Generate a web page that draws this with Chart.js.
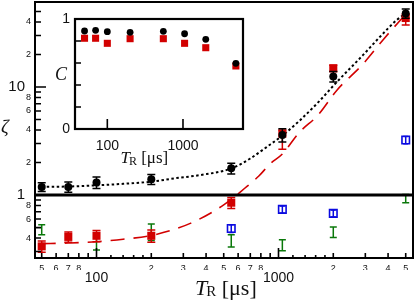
<!DOCTYPE html>
<html>
<head>
<meta charset="utf-8">
<script src="https://cdn.jsdelivr.net/npm/chart.js@4.4.1/dist/chart.umd.min.js"></script>
<style>
  html, body { margin: 0; padding: 0; background: #fff; }
  #wrap { position: relative; width: 415px; height: 301px; }
  #wrap canvas { position: absolute; left: 0; top: 0; }
</style>
</head>
<body>
<div id="wrap">
  <canvas id="main" width="415" height="301"></canvas>
  <canvas id="inset" width="415" height="301"></canvas>
</div>
<script>
// repetition time T_R in microseconds
const tR = [50, 70, 100, 200, 550, 1050, 2000, 5000];

// main panel: zeta
const zetaBlack = [1.19, 1.19, 1.31, 1.40, 1.77, 3.60, 12.5, 48.0];
const zetaBlackErr = [0.11, 0.13, 0.16, 0.15, 0.2, 0.5, 1.4, 4.8];
const zetaRed = [0.335, 0.41, 0.42, 0.42, 0.85, 3.7, 14.9, 43.5];
const zetaRedErrLo = [0.04, 0.045, 0.05, 0.055, 0.1, 1.05, 1.0, 6];
const zetaRedErrHi = [0.04, 0.045, 0.05, 0.055, 0.1, 0.3, 1.0, 4];
const tGreen = [50, 100, 200, 550, 1050, 2000, 5000];
const zetaGreen = [0.48, 0.37, 0.46, 0.38, 0.345, 0.455, 0.93];
const zetaGreenErr = [0.05, 0.06, 0.08, 0.05, 0.04, 0.05, 0.08];
const tBlue = [550, 1050, 2000, 5000];
const zetaBlue = [0.49, 0.737, 0.677, 3.23];
const zetaBlueErr = [0.04, 0.057, 0.052, 0.25];

// fitted curves
const fitBlackT = [50, 70, 100, 140, 200, 270, 370, 550, 700, 860, 1050, 1300, 1650, 2100, 2900, 3600, 4450, 5000];
const fitBlackZ = [1.19, 1.20, 1.23, 1.27, 1.33, 1.43, 1.53, 1.76, 2.18, 2.78, 3.55, 4.85, 7.2, 11.2, 19.6, 29, 41.5, 48];
const fitRedT = [50, 70, 100, 140, 210, 330, 500, 650, 780, 900, 1050, 1300, 1650, 2100, 2900, 3800, 4900];
const fitRedZ = [0.355, 0.36, 0.37, 0.39, 0.43, 0.55, 0.81, 1.15, 1.5, 1.95, 2.4, 3.8, 5.5, 9.4, 16.2, 28, 45.5];
const refLine = 1;

// inset: C
const cBlack = [0.891, 0.897, 0.885, 0.879, 0.888, 0.866, 0.815, 0.597];
const cRed = [0.825, 0.825, 0.779, 0.821, 0.821, 0.779, 0.739, 0.573];

// ticks
const xTicksMajor = [100, 1000];
const xTicksDigit = [50, 60, 70, 80, 200, 300, 400, 500, 600, 700, 800, 2000, 3000, 4000, 5000];
const xTicksPlain = [90, 900];
const xTicksSmall = [120, 140, 160, 180, 1200, 1400, 1600, 1800];
const yTicksMajor = [1, 10];
const yTicksDigit = [0.4, 0.6, 0.8, 2, 4, 6, 8, 20, 40];
const yTicksPlain = [0.3, 0.5, 0.7, 0.9, 3, 5, 7, 9, 30, 50];
const insetXTicks = [100, 1000];
const insetYLabels = [0, 1];
const insetYTicks = [0.2, 0.4, 0.6, 0.8];

const RED = '#d20000', BLUE = '#0a0ae0', GREEN = '#0a780a', INK = '#111';
const SANS = '"Liberation Sans", Arial, sans-serif';
const SERIF = '"Liberation Serif", "Times New Roman", serif';

const pts = (xs, ys) => xs.map((x, i) => ({ x, y: ys[i] }));
const digit = v => String(Math.round(v / Math.pow(10, Math.floor(Math.log10(v) + 1e-9))));
const setTicks = vals => s => { s.ticks = vals.map(v => ({ value: v })); };
const fixSize = (w, h) => s => {
  if (w != null) s.width = w;
  if (h != null) s.height = h;
  s.paddingLeft = s.paddingRight = s.paddingTop = s.paddingBottom = 0;
};

function drawTR(ctx, x0, base, size, subSize, subDrop) {
  ctx.save();
  ctx.fillStyle = INK;
  ctx.textBaseline = 'alphabetic';
  ctx.textAlign = 'left';
  ctx.font = `italic ${size}px ${SERIF}`;
  ctx.fillText('T', x0, base);
  let x = x0 + ctx.measureText('T').width - 1;
  ctx.font = `${subSize}px ${SERIF}`;
  ctx.fillText('R', x, base + subDrop);
  x += ctx.measureText('R').width;
  ctx.font = `${size}px ${SERIF}`;
  ctx.fillText(' [μs]', x, base);
  ctx.restore();
}

const errorBars = {
  id: 'errorBars',
  beforeDatasetDraw(chart, args) {
    const ds = chart.data.datasets[args.index];
    if (!ds.errLo) return;
    const ys = chart.scales[args.meta.yAxisID];
    const ctx = chart.ctx;
    ctx.save();
    ctx.strokeStyle = ds.errColor;
    ctx.lineWidth = 1.5;
    args.meta.data.forEach((pt, i) => {
      const v = ds.data[i].y;
      const top = ys.getPixelForValue(v + ds.errHi[i]);
      const bot = ys.getPixelForValue(v - ds.errLo[i]);
      ctx.beginPath();
      ctx.moveTo(pt.x, top); ctx.lineTo(pt.x, bot);
      ctx.moveTo(pt.x - ds.capW, top); ctx.lineTo(pt.x + ds.capW, top);
      ctx.moveTo(pt.x - ds.capW, bot); ctx.lineTo(pt.x + ds.capW, bot);
      ctx.stroke();
    });
    ctx.restore();
  }
};

const mainFrame = {
  id: 'mainFrame',
  afterDatasetsDraw(chart) {
    const { ctx, chartArea: a } = chart;
    const py = chart.scales.y.getPixelForValue(refLine);
    ctx.save();
    ctx.strokeStyle = '#000';
    ctx.lineWidth = 3;
    ctx.beginPath(); ctx.moveTo(a.left, py); ctx.lineTo(a.right, py); ctx.stroke();
    ctx.restore();
  },
  afterDraw(chart) {
    const { ctx, chartArea: a } = chart;
    const xs = chart.scales.x, ys = chart.scales.y;
    ctx.save();
    ctx.strokeStyle = '#000';
    ctx.lineWidth = 1.6;
    ctx.beginPath();
    const xt = (vals, len) => vals.forEach(v => {
      const px = xs.getPixelForValue(v);
      ctx.moveTo(px, a.bottom); ctx.lineTo(px, a.bottom - len);
    });
    const yt = (vals, len) => vals.forEach(v => {
      const py = ys.getPixelForValue(v);
      ctx.moveTo(a.left, py); ctx.lineTo(a.left + len, py);
    });
    xt(xTicksMajor, 10); xt(xTicksDigit, 5); xt(xTicksPlain, 5); xt(xTicksSmall, 3);
    yt(yTicksMajor, 11); yt(yTicksDigit, 6); yt(yTicksPlain, 6);
    ctx.stroke();
    ctx.lineWidth = 2;
    ctx.strokeRect(a.left, a.top, a.right - a.left, a.bottom - a.top);
    ctx.fillStyle = INK;
    ctx.font = `italic 19px ${SERIF}`;
    ctx.textBaseline = 'alphabetic';
    ctx.fillText('ζ', 1, 133);
    ctx.restore();
    drawTR(ctx, (a.left + a.right) / 2 - 29, 295, 22, 15, 1);
  }
};

const xMin = 45.93, xMax = 5483, yMin = 0.2615, yMax = 61.2;
const tickFont = size => ({ family: SANS, size });

new Chart(document.getElementById('main'), {
  type: 'line',
  data: {
    datasets: [
      { data: pts(tR, zetaBlack), showLine: false, pointStyle: 'circle', pointRadius: 4,
        backgroundColor: '#000', borderColor: '#000', borderWidth: 0,
        errLo: zetaBlackErr, errHi: zetaBlackErr, capW: 4, errColor: '#000' },
      { data: pts(tR, zetaRed), showLine: false, pointStyle: 'rect', pointRadius: 5.7,
        backgroundColor: RED, borderColor: RED, borderWidth: 0,
        errLo: zetaRedErrLo, errHi: zetaRedErrHi, capW: 4, errColor: RED },
      { data: pts(tGreen, zetaGreen), showLine: false, pointRadius: 0,
        errLo: zetaGreenErr, errHi: zetaGreenErr, capW: 3.5, errColor: GREEN },
      { data: pts(tBlue, zetaBlue), showLine: false, pointStyle: 'rect', pointRadius: 5.3,
        backgroundColor: 'rgba(0,0,0,0)', borderColor: BLUE, borderWidth: 1.6,
        errLo: zetaBlueErr, errHi: zetaBlueErr, capW: 2.5, errColor: BLUE },
      { data: pts(fitBlackT, fitBlackZ), pointRadius: 0, borderColor: '#000', borderWidth: 2,
        borderDash: [2.5, 2.5], cubicInterpolationMode: 'monotone', fill: false },
      { data: pts(fitRedT, fitRedZ), pointRadius: 0, borderColor: RED, borderWidth: 1.6,
        borderDash: [14, 9], cubicInterpolationMode: 'monotone', fill: false }
    ]
  },
  options: {
    responsive: false,
    animation: false,
    events: [],
    layout: { padding: { left: 0, top: 2, right: 2, bottom: 0 }, autoPadding: false },
    plugins: { legend: { display: false }, tooltip: { enabled: false } },
    scales: {
      x: {
        type: 'logarithmic', position: 'bottom', weight: 0, min: xMin, max: xMax,
        afterBuildTicks: setTicks(xTicksDigit), afterFit: fixSize(null, 12),
        grid: { display: false, drawTicks: false }, border: { display: false },
        ticks: { autoSkip: false, maxRotation: 0, padding: 5, color: INK, font: tickFont(9), callback: v => digit(v) }
      },
      x2: {
        type: 'logarithmic', position: 'bottom', weight: 1, min: xMin, max: xMax,
        afterBuildTicks: setTicks(xTicksMajor), afterFit: fixSize(null, 31),
        grid: { display: false, drawTicks: false }, border: { display: false },
        ticks: { autoSkip: false, maxRotation: 0, padding: 0, color: INK, font: tickFont(14), callback: v => String(v) }
      },
      y: {
        type: 'logarithmic', position: 'left', weight: 0, min: yMin, max: yMax,
        afterBuildTicks: setTicks(yTicksDigit), afterFit: fixSize(10, null),
        grid: { display: false, drawTicks: false }, border: { display: false },
        ticks: { autoSkip: false, padding: 4, color: INK, font: tickFont(9), callback: v => digit(v) }
      },
      y2: {
        type: 'logarithmic', position: 'left', weight: 1, min: yMin, max: yMax,
        afterBuildTicks: setTicks(yTicksMajor), afterFit: fixSize(25, null),
        grid: { display: false, drawTicks: false }, border: { display: false },
        ticks: { autoSkip: false, padding: 0, color: INK, font: tickFont(15), callback: v => String(v) }
      }
    }
  },
  plugins: [errorBars, mainFrame]
});

const insetFrame = {
  id: 'insetFrame',
  beforeDraw(chart) {
    const { ctx, chartArea: a } = chart;
    ctx.save();
    ctx.fillStyle = '#fff';
    ctx.fillRect(a.left, a.top, a.right - a.left, a.bottom - a.top);
    ctx.restore();
  },
  afterDraw(chart) {
    const { ctx, chartArea: a } = chart;
    const xs = chart.scales.x, ys = chart.scales.y;
    ctx.save();
    ctx.strokeStyle = '#000';
    ctx.lineWidth = 1.6;
    ctx.beginPath();
    insetXTicks.forEach(v => {
      const px = xs.getPixelForValue(v);
      ctx.moveTo(px, a.bottom); ctx.lineTo(px, a.bottom - 10);
    });
    insetYTicks.forEach(v => {
      const py = ys.getPixelForValue(v);
      ctx.moveTo(a.left, py); ctx.lineTo(a.left + 6, py);
    });
    ctx.stroke();
    ctx.lineWidth = 2.2;
    ctx.strokeRect(a.left, a.top, a.right - a.left, a.bottom - a.top);
    ctx.fillStyle = INK;
    ctx.font = `italic 18px ${SERIF}`;
    ctx.textBaseline = 'alphabetic';
    ctx.fillText('C', 55, 80);
    ctx.restore();
    drawTR(ctx, 120.5, 163, 17, 12, 2);
  }
};

new Chart(document.getElementById('inset'), {
  type: 'line',
  data: {
    datasets: [
      { data: pts(tR, cBlack), showLine: false, pointStyle: 'circle', pointRadius: 3.4,
        backgroundColor: '#000', borderColor: '#000', borderWidth: 0 },
      { data: pts(tR, cRed), showLine: false, pointStyle: 'rect', pointRadius: 5,
        backgroundColor: RED, borderColor: RED, borderWidth: 0 }
    ]
  },
  options: {
    responsive: false,
    animation: false,
    events: [],
    layout: { padding: { left: 45, top: 19, right: 172, bottom: 142 }, autoPadding: false },
    plugins: { legend: { display: false }, tooltip: { enabled: false } },
    scales: {
      x: {
        type: 'logarithmic', min: 37.4, max: 6210,
        afterBuildTicks: setTicks(insetXTicks), afterFit: fixSize(null, 30),
        grid: { display: false, drawTicks: false }, border: { display: false },
        ticks: { autoSkip: false, maxRotation: 0, padding: 9, color: INK, font: tickFont(14), callback: v => String(v) }
      },
      y: {
        type: 'linear', min: 0, max: 1,
        afterBuildTicks: setTicks(insetYLabels), afterFit: fixSize(30, null),
        grid: { display: false, drawTicks: false }, border: { display: false },
        ticks: { autoSkip: false, padding: 5, color: INK, font: tickFont(14), callback: v => String(v) }
      }
    }
  },
  plugins: [insetFrame]
});
</script>
</body>
</html>
